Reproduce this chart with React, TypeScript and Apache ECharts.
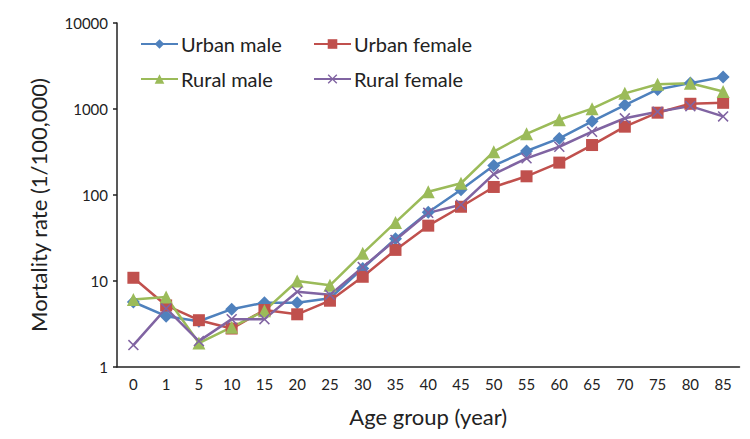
import React, { useEffect, useRef } from "react";
import * as echarts from "echarts";

const ages = ["0", "1", "5", "10", "15", "20", "25", "30", "35", "40", "45", "50", "55", "60", "65", "70", "75", "80", "85"];
const urbanMale = [5.7, 3.9, 3.4, 4.7, 5.6, 5.6, 6.3, 14, 31, 63, 115, 220, 325, 455, 720, 1110, 1690, 2000, 2350];
const urbanFemale = [10.9, 5.2, 3.5, 2.8, 4.6, 4.1, 5.9, 11.2, 23, 44, 73, 124, 165, 238, 381, 623, 906, 1150, 1180];
const ruralMale = [6.1, 6.5, 1.9, 2.9, 4.5, 10, 8.9, 21, 48, 109, 137, 319, 515, 750, 1010, 1520, 1940, 1990, 1600];
const ruralFemale = [1.8, 4.8, 2.0, 3.6, 3.6, 7.5, 6.9, 14.5, 30, 62, 77, 175, 267, 364, 544, 780, 930, 1080, 820];

const FONT = "Lato";
const xSymbol = "path://M0,1 L1,0 L5,4 L9,0 L10,1 L6,5 L10,9 L9,10 L5,6 L1,10 L0,9 L4,5 Z";

export default function App() {
  const ref = useRef<HTMLDivElement>(null);
  useEffect(() => {
    if (!ref.current) return;
    const chart = echarts.init(ref.current, undefined, { renderer: "svg" });
    const mk = (name: string, data: number[], color: string, symbol: string, size: number) => ({
      name,
      type: "line",
      data,
      symbol,
      symbolSize: size,
      lineStyle: { color, width: 2.5 },
      itemStyle: { color, borderColor: color, borderWidth: 0 },
    });
    const legendText = { fontFamily: FONT, fontSize: 20, lineHeight: 20, color: "#222", padding: [0, 0, 0, -2] };
    chart.setOption({
      animation: false,
      backgroundColor: "#fff",
      textStyle: { fontFamily: FONT },
      grid: { left: 117, right: 10.5, top: 23, bottom: 72, containLabel: false },
      legend: [
        {
          data: ["Urban male", "Rural male"],
          orient: "vertical",
          left: 140,
          top: 34,
          padding: 0,
          itemWidth: 37,
          itemHeight: 12,
          itemGap: 15,
          textStyle: legendText,
        },
        {
          data: ["Urban female", "Rural female"],
          orient: "vertical",
          left: 313,
          top: 34,
          padding: 0,
          itemWidth: 37,
          itemHeight: 12,
          itemGap: 15,
          textStyle: legendText,
        },
      ],
      xAxis: {
        type: "category",
        data: ages,
        boundaryGap: true,
        name: "Age group (year)",
        nameLocation: "middle",
        nameGap: 38,
        nameTextStyle: { fontFamily: FONT, fontSize: 22, color: "#222" },
        axisLine: { lineStyle: { color: "#222", width: 1.5 } },
        axisTick: { alignWithLabel: true, inside: true, length: 4, lineStyle: { color: "#222", width: 1.5 } },
        axisLabel: { fontFamily: FONT, fontSize: 15, color: "#222", margin: 9, interval: 0 },
        splitLine: { show: false },
      },
      yAxis: {
        type: "log",
        logBase: 10,
        min: 1,
        max: 10000,
        name: "Mortality rate (1/100,000)",
        nameLocation: "middle",
        nameGap: 68,
        nameTextStyle: { fontFamily: FONT, fontSize: 22, color: "#222", padding: [0, 20, 0, 0] },
        axisLine: { show: true, lineStyle: { color: "#222", width: 1.5 } },
        axisTick: { show: true, length: 4, lineStyle: { color: "#222", width: 1.5 } },
        axisLabel: { fontFamily: FONT, fontSize: 15, color: "#222", margin: 9, formatter: (v: number) => String(v) },
        splitLine: { show: false },
        minorTick: { show: false },
      },
      series: [
        mk("Urban male", urbanMale, "#4F81BD", "diamond", 13),
        mk("Urban female", urbanFemale, "#C0504D", "rect", 12),
        mk("Rural male", ruralMale, "#9BBB59", "triangle", 13),
        mk("Rural female", ruralFemale, "#8064A2", xSymbol, 11),
      ],
    });
    return () => chart.dispose();
  }, []);
  return <div ref={ref} style={{ width: 750, height: 439, position: "absolute", left: 0, top: 0 }} />;
}
